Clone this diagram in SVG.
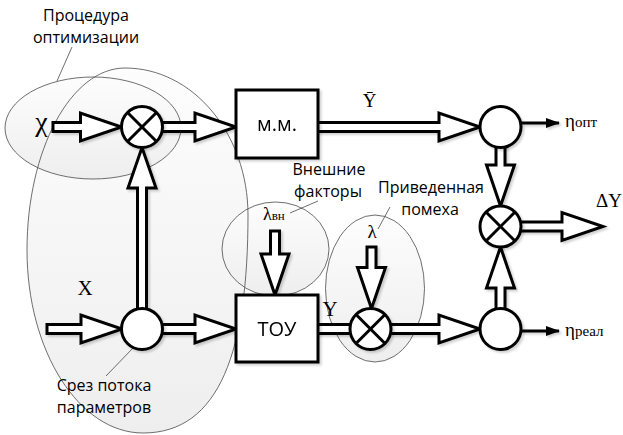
<svg xmlns="http://www.w3.org/2000/svg" width="623" height="435" viewBox="0 0 623 435">
  <defs>
    <linearGradient id="zoneFill" x1="0" y1="0" x2="0" y2="1">
      <stop offset="0" stop-color="#fdfdfd"/>
      <stop offset="1" stop-color="#eeeeee"/>
    </linearGradient>
    <filter id="shade" x="-10%" y="-10%" width="130%" height="130%">
      <feDropShadow dx="2" dy="2" stdDeviation="1.2" flood-color="#000" flood-opacity="0.18"/>
    </filter>
    <marker id="thinHead" viewBox="0 0 14 10" refX="13" refY="5" markerWidth="14" markerHeight="10" markerUnits="userSpaceOnUse" orient="auto">
      <path d="M0,0 L14,5 L0,10 Z" fill="#000"/>
    </marker>
  </defs>
  <style>
    .zone { fill: url(#zoneFill); stroke: none; }
    .zoneEdge { fill: none; stroke: #4a4a4a; stroke-width: 0.8; }
    .lead { fill: none; stroke: #4a4a4a; stroke-width: 0.8; }
    .blk { fill: #fff; stroke: #000; stroke-width: 3; stroke-linejoin: miter; }
    .node { fill: #fff; stroke: #000; stroke-width: 3; }
    .cross { stroke: #000; stroke-width: 3; }
    .thin { stroke: #000; stroke-width: 3; fill: none; }
    .lbl { font-family: "Open Sans", "Noto Sans", "DejaVu Sans", sans-serif; font-size: 16px; fill: #000; text-anchor: middle; }
    .box { font-family: "Open Sans", "Noto Sans", "DejaVu Sans", sans-serif; font-size: 20px; fill: #000; text-anchor: middle; }
    .sym { font-family: "Liberation Serif", "DejaVu Serif", serif; fill: #000; }
    .mid { text-anchor: middle; }
    .s28 { font-size: 28px; }
    .s21 { font-size: 21px; }
    .s19 { font-size: 19px; }
    .s18 { font-size: 18px; }
    .s15 { font-size: 15px; }
    .s13 { font-size: 13px; }
  </style>

  <!-- highlighted zones: fills first, outlines over them -->
  <g id="zones">
    <path id="zone-slice" class="zone" d="M125,68 C193,68 248,134 248,215 C248,350 220,433 143,433 C79,433 27,351 27,250 C27,150 71,68 125,68 Z"/>
    <ellipse id="zone-opt" class="zone" cx="93" cy="128" rx="88" ry="51"/>
    <ellipse id="zone-ext" class="zone" cx="275.5" cy="249" rx="53.5" ry="47"/>
    <ellipse id="zone-noise" class="zone" cx="375" cy="288.5" rx="49.5" ry="73.5"/>
    <path class="zoneEdge" d="M125,68 C193,68 248,134 248,215 C248,350 220,433 143,433 C79,433 27,351 27,250 C27,150 71,68 125,68 Z"/>
    <ellipse class="zoneEdge" cx="93" cy="128" rx="88" ry="51"/>
    <ellipse class="zoneEdge" cx="275.5" cy="249" rx="53.5" ry="47"/>
    <ellipse class="zoneEdge" cx="375" cy="288.5" rx="49.5" ry="73.5"/>
  </g>

  <!-- leader lines from the zone captions -->
  <g id="leaders">
    <line class="lead" x1="72" y1="47" x2="57" y2="81"/>
    <line class="lead" x1="133" y1="348" x2="106" y2="376"/>
    <line class="lead" x1="290" y1="213" x2="318" y2="201"/>
    <line class="lead" x1="378" y1="229" x2="390" y2="207"/>
  </g>

  <!-- block arrows (parameter flows) -->
  <g id="connectors" filter="url(#shade)">
    <polygon class="blk" points="53,122.5 80.5,122.5 80.5,113 121.5,127 80.5,141 80.5,131.5 53,131.5"/>
    <polygon class="blk" points="142,122.5 195,122.5 195,113 236,127 195,141 195,131.5 142,131.5"/>
    <polygon class="blk" points="300,122.5 439,122.5 439,113 480,127 439,141 439,131.5 300,131.5"/>
    <polygon class="blk" points="496,127 496,165 486.5,165 500.5,206 514.5,165 505,165 505,127"/>
    <polygon class="blk" points="500,222 562,222 562,212.5 603,226.5 562,240.5 562,231 500,231"/>
    <polygon class="blk" points="496,329 496,288 486.5,288 500.5,247 514.5,288 505,288 505,329"/>
    <polygon class="blk" points="370,324.5 439,324.5 439,315 480,329 439,343 439,333.5 370,333.5"/>
    <rect class="blk" x="300" y="324.5" width="70" height="9"/>
    <polygon class="blk" points="47,324.5 81,324.5 81,315 122,329 81,343 81,333.5 47,333.5"/>
    <polygon class="blk" points="142,324.5 195,324.5 195,315 236,329 195,343 195,333.5 142,333.5"/>
    <polygon class="blk" points="137.5,329 137.5,188 128,188 142,147.5 156,188 146.5,188 146.5,329"/>
    <polygon class="blk" points="367,247 367,267.5 357.5,267.5 371.5,308.5 385.5,267.5 376,267.5 376,247"/>
    <polygon class="blk" points="270.5,231 270.5,254 261,254 275,295 289,254 279.5,254 279.5,231"/>
    <line class="thin" x1="521" y1="123" x2="559" y2="123" marker-end="url(#thinHead)"/>
    <line class="thin" x1="521" y1="331" x2="559" y2="331" marker-end="url(#thinHead)"/>
  </g>

  <!-- nodes -->
  <g id="mult-opt" filter="url(#shade)">
    <circle class="node" cx="142" cy="127" r="20.5"/>
    <line class="cross" x1="127.5" y1="112.5" x2="156.5" y2="141.5"/>
    <line class="cross" x1="156.5" y1="112.5" x2="127.5" y2="141.5"/>
  </g>
  <g id="model" filter="url(#shade)">
    <rect class="node" x="236" y="90" width="82" height="68"/>
    <text class="box" x="277" y="131">м.м.</text>
  </g>
  <g id="sum-opt" filter="url(#shade)">
    <circle class="node" cx="500.5" cy="127" r="20.5"/>
  </g>
  <g id="mult-delta" filter="url(#shade)">
    <circle class="node" cx="500.5" cy="226.5" r="20.5"/>
    <line class="cross" x1="486" y1="212" x2="515" y2="241"/>
    <line class="cross" x1="515" y1="212" x2="486" y2="241"/>
  </g>
  <g id="sum-real" filter="url(#shade)">
    <circle class="node" cx="500.5" cy="329" r="20.5"/>
  </g>
  <g id="mult-noise" filter="url(#shade)">
    <circle class="node" cx="370.5" cy="329" r="20.5"/>
    <line class="cross" x1="356" y1="314.5" x2="385" y2="343.5"/>
    <line class="cross" x1="385" y1="314.5" x2="356" y2="343.5"/>
  </g>
  <g id="slice" filter="url(#shade)">
    <circle class="node" cx="142" cy="329" r="20.5"/>
  </g>
  <g id="plant" filter="url(#shade)">
    <rect class="node" x="236" y="295" width="82" height="67"/>
    <text class="box" x="277" y="336">ТОУ</text>
  </g>

  <!-- captions -->
  <g id="captions">
    <text class="lbl" x="86" y="21">Процедура</text>
    <text class="lbl" x="86" y="43">оптимизации</text>
    <text class="lbl" x="329" y="175">Внешние</text>
    <text class="lbl" x="328" y="197">факторы</text>
    <text class="lbl" x="431" y="193">Приведенная</text>
    <text class="lbl" x="430" y="215">помеха</text>
    <text class="lbl" x="104" y="391">Срез потока</text>
    <text class="lbl" x="104" y="413">параметров</text>
  </g>

  <!-- signal symbols -->
  <g id="symbols">
    <text class="sym mid s28" x="41.5" y="131">χ</text>
    <text class="sym mid s21" x="85" y="295">X</text>
    <text class="sym mid s19" x="369.5" y="107">Ȳ</text>
    <text class="sym mid s21" x="330" y="316">Y</text>
    <text class="sym s19" x="596" y="207">ΔY</text>
    <text class="sym mid s19" x="372" y="238">λ</text>
    <text class="sym" x="263" y="220"><tspan class="s18">λ</tspan><tspan class="s13">вн</tspan></text>
    <text class="sym" x="565" y="127"><tspan class="s19">η</tspan><tspan class="s15">опт</tspan></text>
    <text class="sym" x="565" y="336"><tspan class="s19">η</tspan><tspan class="s15">реал</tspan></text>
  </g>
</svg>
